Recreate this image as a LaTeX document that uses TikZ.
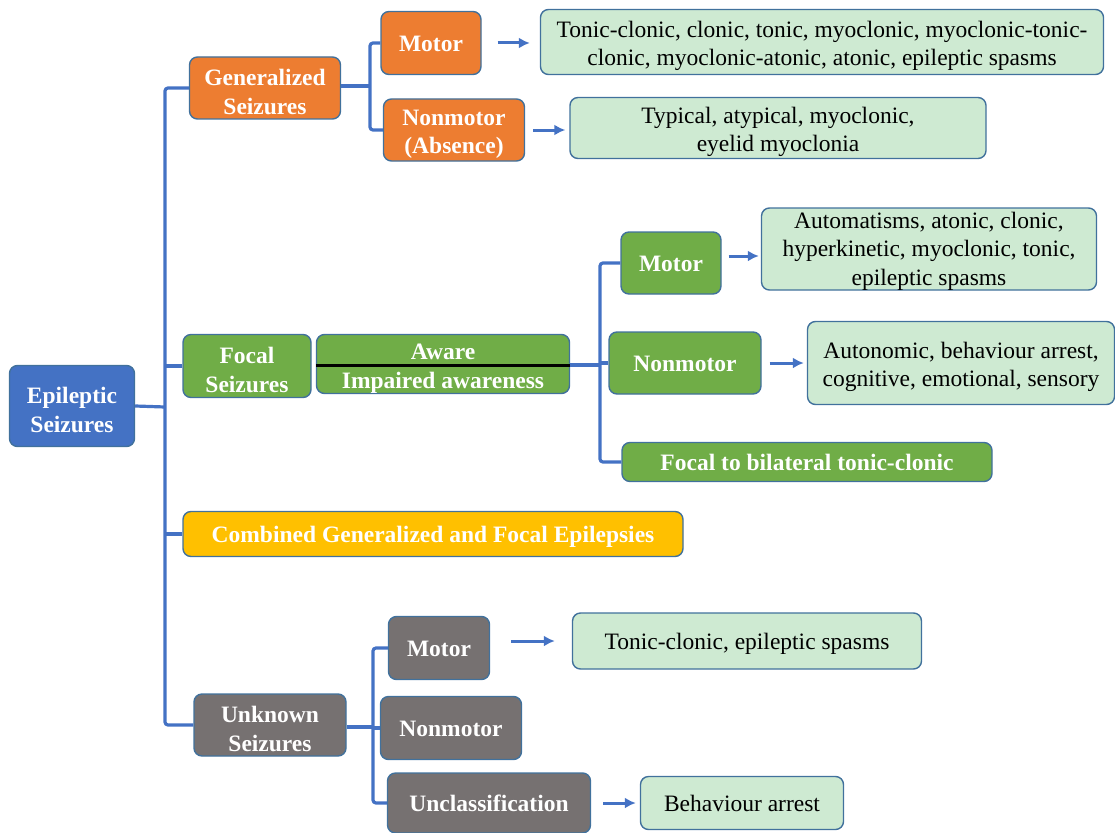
\documentclass[tikz,border=0pt]{standalone}
\usepackage{fontspec}
\setmainfont{Liberation Serif}
\usetikzlibrary{arrows.meta}
\definecolor{edge}{RGB}{65,113,156}
\definecolor{link}{RGB}{68,114,196}
\definecolor{rootblue}{RGB}{68,114,196}
\definecolor{genor}{RGB}{237,125,49}
\definecolor{focgreen}{RGB}{112,173,71}
\definecolor{combgold}{RGB}{255,192,0}
\definecolor{unkgray}{RGB}{118,113,113}
\definecolor{leafgreen}{RGB}{206,234,210}
% taller first line so stacked text sits a little lower in its box
\newcommand\firstline{\rule{0pt}{24.5pt}}
\newcommand\firstlineshort{\rule{0pt}{20pt}}
\tikzset{
  box/.style={draw=edge, line width=1.4pt, rounded corners=8pt, align=center,
    inner sep=0pt, font=\fontsize{23.5}{28.5}\selectfont},
  catbox/.style={box, text=white, font=\bfseries\fontsize{23.5}{28.5}\selectfont},
  leafbox/.style={box, fill=leafgreen, text=black},
  one/.style={text height=21.5pt, text depth=5pt},
  branch/.style={draw=link, line width=3.2pt, rounded corners=3pt},
  pointer/.style 2 args={draw=link, line width=3pt, -{Latex[length=11pt,width=11pt]},
    shorten <=#1pt, shorten >=#2pt}
}
\begin{document}
\begin{tikzpicture}[x=1pt, y=-1pt]
\useasboundingbox (0,0) rectangle (1115,832);

% root
\node[catbox, fill=rootblue, minimum width=125, minimum height=81] (root) at (72,406) {\firstline Epileptic\\Seizures};

% first level
\node[catbox, fill=genor, minimum width=151, minimum height=62] (gen) at (265,88) {\firstline Generalized\\Seizures};
\node[catbox, fill=focgreen, minimum width=128, minimum height=63] (foc) at (247,366) {\firstline Focal\\Seizures};
\node[catbox, one, fill=combgold, minimum width=500, minimum height=45] (comb) at (433,534) {Combined Generalized and Focal Epilepsies};
\node[catbox, fill=unkgray, minimum width=152, minimum height=62] (unk) at (270,725) {\firstline Unknown\\Seizures};

% generalized branch
\node[catbox, one, fill=genor, minimum width=100, minimum height=63] (gmot) at (431,43) {Motor};
\node[catbox, fill=genor, minimum width=141, minimum height=62] (gnon) at (454,130) {\firstline Nonmotor\\(Absence)};
\node[leafbox, minimum width=563, minimum height=65] (gmotl) at (822,42) {\firstline Tonic-clonic, clonic, tonic, myoclonic, myoclonic-tonic-\\clonic, myoclonic-atonic, atonic, epileptic spasms};
\node[leafbox, minimum width=416, minimum height=61] (gnonl) at (778,128) {\firstline Typical, atypical, myoclonic,\\eyelid myoclonia};

% focal branch
\node[catbox, fill=focgreen, minimum width=253, minimum height=59] (aw) at (443,364) {\firstline Aware\\Impaired awareness};
\draw[black, line width=3pt] ([yshift=-1pt]aw.west) -- ([yshift=-1pt]aw.east);
\node[catbox, one, fill=focgreen, minimum width=100, minimum height=62] (fmot) at (671,263) {Motor};
\node[catbox, one, fill=focgreen, minimum width=152, minimum height=62] (fnon) at (685,363) {Nonmotor};
\node[catbox, one, fill=focgreen, minimum width=370, minimum height=39] (fbil) at (807,462) {Focal to bilateral tonic-clonic};
\node[leafbox, minimum width=335, minimum height=82] (fmotl) at (929,249) {\firstlineshort Automatisms, atonic, clonic,\\hyperkinetic, myoclonic, tonic,\\epileptic spasms};
\node[leafbox, minimum width=307, minimum height=83] (fnonl) at (961,363) {\firstline Autonomic, behaviour arrest,\\cognitive, emotional, sensory};

% unknown branch
\node[catbox, one, fill=unkgray, minimum width=101, minimum height=63] (umot) at (439,648) {Motor};
\node[catbox, one, fill=unkgray, minimum width=141, minimum height=63] (unon) at (451,728) {Nonmotor};
\node[catbox, one, fill=unkgray, minimum width=203, minimum height=60] (uunc) at (489,803) {Unclassification};
\node[leafbox, one, minimum width=349, minimum height=56] (umotl) at (747,641) {Tonic-clonic, epileptic spasms};
\node[leafbox, one, minimum width=203, minimum height=53] (uuncl) at (742,803) {Behaviour arrest};

% brackets
\coordinate (rb) at (165,407);
\draw[branch] (root.east) -- (rb);
\draw[branch] (gen.west) -- (165,88) -- (165,725) -- (unk.west);
\draw[branch] (foc.west) -- (foc.west -| rb);
\draw[branch] (comb.west) -- (comb.west -| rb);

\coordinate (gb) at (370,86);
\draw[branch] (gen.east |- gb) -- (gb);
\draw[branch] (gmot.west) -- (gmot.west -| gb) -- (gnon.west -| gb) -- (gnon.west);

\coordinate (fb) at (600,365);
\draw[branch] (aw.east |- fb) -- (fb);
\draw[branch] (fmot.west) -- (fmot.west -| fb) -- (fbil.west -| fb) -- (fbil.west);
\draw[branch] (fnon.west) -- (fnon.west -| fb);

\coordinate (ub) at (373,727);
\draw[branch] (unk.east |- ub) -- (ub);
\draw[branch] (umot.west) -- (umot.west -| ub) -- (uunc.west -| ub) -- (uunc.west);
\draw[branch] (unon.west) -- (unon.west -| ub);

% arrows to descriptions
\coordinate (fa) at ([yshift=7pt]fmot.east);
\coordinate (ua) at ([yshift=7pt]umot.east);
\draw[pointer={16}{10}] (gmot.east) -- (gmotl.west |- gmot.east);
\draw[pointer={8}{4}] (gnon.east) -- (gnonl.west |- gnon.east);
\draw[pointer={7}{2}] (fa) -- (fa -| fmotl.west);
\draw[pointer={8}{3}] (fnon.east) -- (fnonl.west |- fnon.east);
\draw[pointer={21}{17}] (ua) -- (ua -| umotl.west);
\draw[pointer={12}{4}] (uunc.east) -- (uuncl.west |- uunc.east);
\end{tikzpicture}
\end{document}
